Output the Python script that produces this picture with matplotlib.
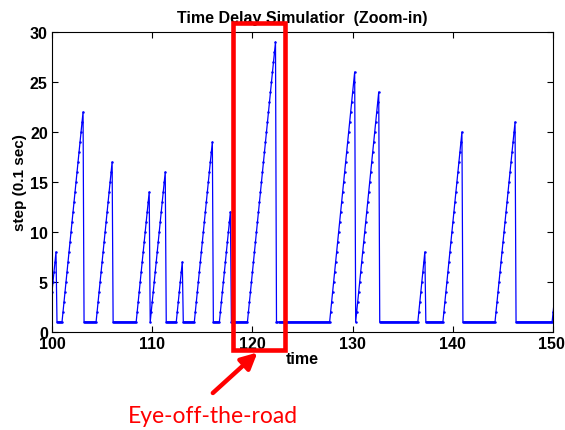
import numpy as np
import matplotlib
matplotlib.use('Agg')
from matplotlib import pyplot as plt
from matplotlib.patches import Rectangle
from matplotlib.transforms import ScaledTranslation

# Counter episodes: time the count leaves 1, and the peak it reaches
# (count climbs by one every 0.1 s, then falls back to 1)
rise_start = [99.7, 101.0, 104.4, 108.4, 109.8, 112.4, 114.2, 116.7,
              119.5, 127.7, 130.3, 136.5, 139.0, 144.2, 149.9]
rise_peak = [8, 22, 17, 14, 16, 7, 19, 12, 29, 26, 24, 8, 20, 21, 3]

x_ticks = [100, 110, 120, 130, 140, 150]
y_ticks = [0, 5, 10, 15, 20, 25, 30]

# Build the sampled series (0.1 s samples)
t10 = np.arange(997, 1502)
step = np.ones(len(t10))
for t0, pk in zip(rise_start, rise_peak):
    i0 = int(round(t0*10)) - t10[0]
    for kk in range(pk):
        if i0+kk < len(step):
            step[i0+kk] = 1 + kk
time = t10/10.

plt.rcParams['font.family'] = ['Liberation Sans', 'DejaVu Sans']
plt.rcParams['font.weight'] = 'bold'

fig = plt.figure(figsize=(5.65, 4.31), dpi=100)
ax = fig.add_axes([0.092, 0.2274, 0.887, 0.696])

ax.plot(time, step, '-', color='#0000ff', lw=0.9, marker='.', ms=3.6, mew=0)

ax.set_xlim(100, 150)
ax.set_ylim(0, 30)
ax.set_xticks(x_ticks)
ax.set_yticks(y_ticks)
ax.tick_params(direction='in', top=True, right=True, length=4, width=0.8,
               labelsize=11.5, pad=3)
for lbl in ax.get_xticklabels() + ax.get_yticklabels():
    lbl.set_fontweight('bold')
# keep last x label inside the figure
last = ax.get_xticklabels()[-1]
last.set_horizontalalignment('right')
last.set_transform(last.get_transform() + ScaledTranslation(12/100., 0, fig.dpi_scale_trans))
for sp in ax.spines.values():
    sp.set_linewidth(0.8)

ax.set_title('Time Delay Simulatior  (Zoom-in)', fontsize=11.5, fontweight='bold', pad=7)
ax.set_xlabel('time', fontsize=11.5, fontweight='bold', labelpad=0)
ax.set_ylabel('step (0.1 sec)', fontsize=11, fontweight='bold', labelpad=2)

# Eye-off-the-road highlight
box = Rectangle((118.05, -1.8), 5.2, 32.7, fill=False, edgecolor='#ff0000',
                lw=3.3, clip_on=False, zorder=5)
ax.add_patch(box)
ax.annotate('', xy=(120.5, -2.05), xytext=(116.05, -6.1),
            arrowprops=dict(arrowstyle='-|>', color='#ff0000', lw=3.2,
                            mutation_scale=24, shrinkA=0, shrinkB=0),
            annotation_clip=False)
fig.text(0.377, 0.0186, 'Eye-off-the-road', color='#ff0000', fontsize=16.5,
         fontweight='normal', family=['Lato', 'DejaVu Sans'],
         ha='center', va='baseline')

fig.savefig('out.png', dpi=100)
plt.close()
